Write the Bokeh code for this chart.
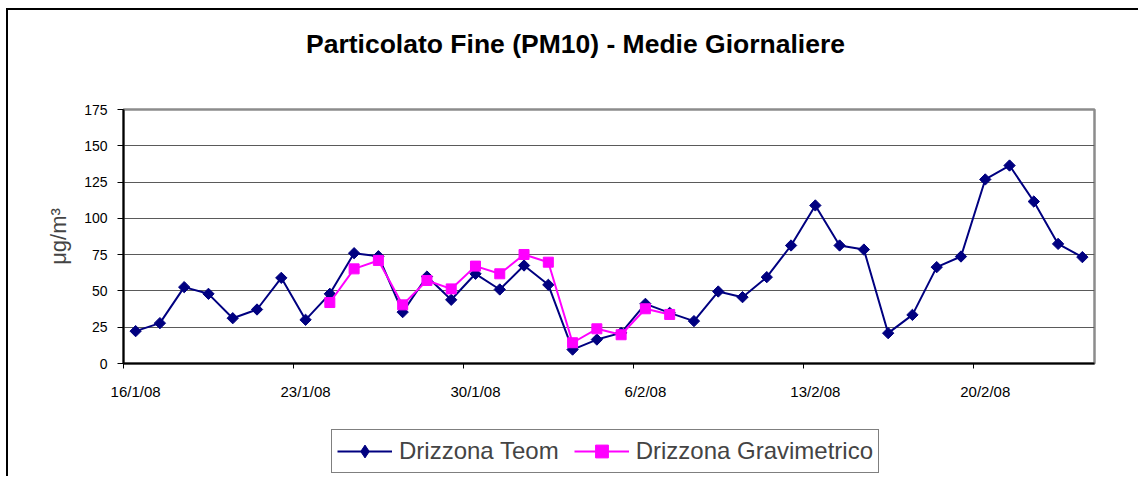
import numpy as np
from bokeh.plotting import figure
from bokeh.layouts import column
from bokeh.models import Range1d, FixedTicker, Legend, LegendItem, ColumnDataSource, Label
from bokeh.embed import file_html
from bokeh.resources import INLINE

# Daily means, 16/1/08 .. 24/2/08
teom = [22.3, 27.8, 52.6, 48.0, 31.2, 37.2, 59.0, 30.1, 48.0, 76.0,
        73.9, 35.4, 59.9, 43.9, 61.8, 51.0, 67.5, 54.2, 9.6, 16.5,
        21.1, 41.1, 34.9, 29.2, 49.6, 45.7, 59.5, 81.3, 108.9, 81.3,
        78.5, 20.9, 33.5, 66.4, 73.7, 126.8, 136.4, 111.6, 82.4, 73.3]
# Gravimetric, 24/1/08 .. 7/2/08 (day index 8 .. 22)
grav_start_day = 8
grav = [42.0, 65.2, 71.0, 40.4, 57.2, 51.4, 67.1, 61.8, 75.1, 69.8,
        14.3, 23.9, 19.8, 37.7, 33.8]

tick_days = [0, 7, 14, 21, 28, 35]
tick_labels = ["16/1/08", "23/1/08", "30/1/08", "6/2/08", "13/2/08", "20/2/08"]
y_ticks = [0, 25, 50, 75, 100, 125, 150, 175]
series_names = ["Drizzona Teom", "Drizzona Gravimetrico"]
title_text = "Particolato Fine (PM10) - Medie Giornaliere"

FONT = "Liberation Sans"
C_TEOM = "#000080"
C_GRAV = "#ff00ff"
FW, FH = 971, 254

x_teom = np.arange(len(teom)) + 0.5
x_grav = np.arange(len(grav)) + grav_start_day + 0.5
src_t = ColumnDataSource(dict(x=x_teom, y=teom))
src_g = ColumnDataSource(dict(x=x_grav, y=grav))

# ---- title strip ----
TH = 89
t = figure(width=FW, height=TH, output_backend="svg", toolbar_location=None,
           x_range=Range1d(0, 1), y_range=Range1d(0, 1),
           x_axis_type=None, y_axis_type=None, min_border=0)
t.outline_line_color = None
t.grid.visible = False
t.add_layout(Label(x=452, y=TH - 33, x_units="screen", y_units="screen",
                   text=title_text, text_font=FONT,
                   text_font_style="bold", text_font_size="26.5px",
                   text_align="center", text_baseline="middle",
                   text_color="black"))

# ---- main plot ----
p = figure(frame_width=FW, frame_height=FH, output_backend="svg",
           toolbar_location=None,
           x_range=Range1d(0, len(teom)), y_range=Range1d(0, 175),
           min_border_left=115, min_border_right=44, min_border_top=10,
           min_border_bottom=57)

p.outline_line_color = "#8c8c8c"
p.outline_line_width = 2.5

p.xgrid.visible = False
p.ygrid.ticker = FixedTicker(ticks=y_ticks)
p.ygrid.grid_line_color = "#5a5a5a"
p.ygrid.grid_line_width = 1

p.yaxis.ticker = FixedTicker(ticks=y_ticks)
# labels centred in the day slot, tick marks on the day boundary
label_pos = [d + 0.5 for d in tick_days]
p.xaxis.ticker = FixedTicker(ticks=label_pos, minor_ticks=tick_days)
p.xaxis.major_label_overrides = {d: l for d, l in zip(label_pos, tick_labels)}
for ax in (p.xaxis[0], p.yaxis[0]):
    ax.axis_line_color = "black"
    ax.axis_line_width = 2
    ax.major_tick_line_color = "black"
    ax.major_tick_line_width = 1
    ax.major_tick_in = 0
    ax.major_label_text_font = FONT
    ax.major_label_text_color = "black"
p.yaxis.minor_tick_line_color = None
p.yaxis.major_tick_out = 6
p.yaxis.major_label_standoff = 10
p.yaxis.major_label_text_font_size = "14px"
p.xaxis.major_tick_out = 0
p.xaxis.major_tick_line_color = None
p.xaxis.minor_tick_in = 0
p.xaxis.minor_tick_out = 5
p.xaxis.minor_tick_line_color = "black"
p.xaxis.minor_tick_line_width = 1
p.xaxis.major_label_standoff = 14
p.xaxis.major_label_text_font_size = "15px"
p.yaxis.axis_label = "μg/m³"
p.yaxis.axis_label_text_font = FONT
p.yaxis.axis_label_text_font_size = "22px"
p.yaxis.axis_label_text_font_style = "normal"
p.yaxis.axis_label_standoff = 10

p.line("x", "y", source=src_t, line_color=C_TEOM, line_width=2)
p.scatter("x", "y", source=src_t, marker="square", size=8, angle=np.pi / 4,
          fill_color=C_TEOM, line_color=C_TEOM)
p.line("x", "y", source=src_g, line_color=C_GRAV, line_width=2)
p.scatter("x", "y", source=src_g, marker="square", size=10,
          fill_color=C_GRAV, line_color=C_GRAV)

# ---- legend strip ----
QH = 56
q = figure(width=FW, height=QH, output_backend="svg", toolbar_location=None,
           x_range=Range1d(0, 1), y_range=Range1d(0, 1),
           x_axis_type=None, y_axis_type=None, min_border=0)
q.outline_line_color = None
q.grid.visible = False
off = ColumnDataSource(dict(x=[-10, -9], y=[-10, -9]))
k1 = q.line("x", "y", source=off, line_color=C_TEOM, line_width=2)
s1 = q.scatter("x", "y", source=off, marker="diamond", size=8,
               fill_color=C_TEOM, line_color=C_TEOM)
k2 = q.line("x", "y", source=off, line_color=C_GRAV, line_width=2)
s2 = q.scatter("x", "y", source=off, marker="square", size=10,
               fill_color=C_GRAV, line_color=C_GRAV)
legend = Legend(items=[LegendItem(label=series_names[0], renderers=[k1, s1]),
                       LegendItem(label=series_names[1], renderers=[k2, s2])],
                location=(208, 3), orientation="horizontal",
                label_text_font=FONT, label_text_font_size="24px",
                glyph_width=55, glyph_height=32, label_standoff=7, spacing=15,
                padding=5, margin=0, border_line_color="black", border_line_width=1,
                background_fill_color="white", background_fill_alpha=1)
q.add_layout(legend, "center")

layout = column(t, p, q, spacing=0)
layout.styles = {"margin-left": "6px", "margin-top": "8px",
                 "border-left": "2px solid black", "border-top": "2px solid black"}

open("out.html", "w").write(file_html(layout, INLINE))
